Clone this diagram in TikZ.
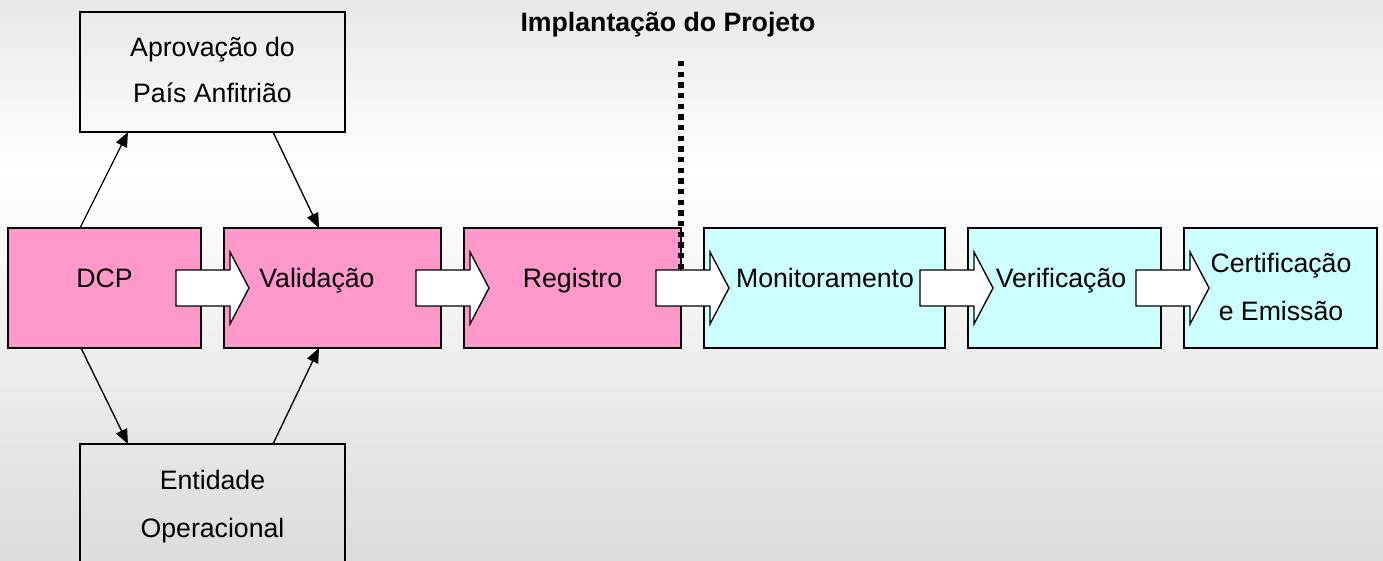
\documentclass[tikz,border=0pt]{standalone}
\usepackage{fontspec}
\setmainfont{Liberation Sans}
\usetikzlibrary{calc,arrows.meta}
\definecolor{pinkfill}{HTML}{FF99CC}
\definecolor{cyanfill}{HTML}{CCFFFF}
\definecolor{bgtop}{RGB}{232,232,232}
\definecolor{bgbot}{RGB}{220,220,220}
\tikzset{
  boxwh/.style 2 args={minimum width=#1*0.75pt, minimum height=#2*0.75pt},
  basebox/.style={draw=black, line width=1pt, inner sep=0pt, outer sep=0pt, rectangle},
  greybox/.style={basebox},
  pinkbox/.style={basebox, fill=pinkfill},
  cyanbox/.style={basebox, fill=cyanfill},
  blkarr/.style={draw=black, line width=1pt, fill=white, line join=miter},
  thinarr/.style={draw=black, line width=1pt, -{Triangle[length=11pt,width=9pt]}},
  dotline/.style={draw=black, line width=4pt, dash pattern=on 4pt off 4pt},
  txt/.style={font=\fontsize{20}{24}\selectfont, inner sep=0pt, anchor=base},
  ttl/.style={font=\fontsize{20}{24}\selectfont\bfseries, inner sep=0pt, anchor=base}
}
\newcommand\blkarrow[1]{\draw[blkarr] ($(#1.east)+(-25,-18)$) -- ++(54,0) -- ++(0,-18) -- ++(19,36) -- ++(-19,36) -- ++(0,-18) -- ++(-54,0) -- cycle;}
\begin{document}
\begin{tikzpicture}[x=0.75pt,y=-0.75pt]
\useasboundingbox (0,0) rectangle (1383,560);
\shade[top color=bgtop, bottom color=white] (0,0) rectangle (1383,170);
\shade[top color=white, bottom color=bgbot] (0,170) rectangle (1383,560);
\begin{scope}
\clip (0,0) rectangle (1383,560);
% boxes
\node[greybox, boxwh={265}{120}] (aprov) at (212.5,72) {};
\node[pinkbox, boxwh={193}{120}] (dcp) at (104.5,288) {};
\node[pinkbox, boxwh={217}{120}] (valid) at (332.5,288) {};
\node[pinkbox, boxwh={217}{120}] (reg) at (572.5,288) {};
\node[cyanbox, boxwh={241}{120}] (mon) at (824.5,288) {};
\node[cyanbox, boxwh={193}{120}] (ver) at (1064.5,288) {};
\node[cyanbox, boxwh={193}{120}] (cert) at (1280.5,288) {};
\node[greybox, boxwh={265}{120}] (ent) at (212.5,504) {};
% dotted separator
\coordinate (dtop) at (681,61);
\coordinate (dbot) at (681,272);
\draw[dotline] (dtop) -- (dbot);
% block arrows
\blkarrow{dcp}
\blkarrow{valid}
\blkarrow{reg}
\blkarrow{mon}
\blkarrow{ver}
% thin arrows
\draw[thinarr] ($(dcp.north west)+(72,0)$) -- ($(aprov.south west)+(48,0)$);
\draw[thinarr] ($(aprov.south west)+(193,0)$) -- ($(valid.north west)+(95,0)$);
\draw[thinarr] ($(dcp.south west)+(73,0)$) -- ($(ent.north west)+(48,0)$);
\draw[thinarr] ($(ent.north west)+(193,0)$) -- ($(valid.south west)+(95,0)$);
% texts
\node[ttl] (title) at (668,32) {Implantação do Projeto};
\node[txt] (aprov1) at (212.5,56) {Aprovação do};
\node[txt] (aprov2) at (212.5,103) {País Anfitrião};
\node[txt] (dcpt) at (104.5,287) {DCP};
\node[txt] (validt) at (317,287) {Validação};
\node[txt] (regt) at (572.5,287) {Registro};
\node[txt] (mont) at (825,287) {Monitoramento};
\node[txt] (vert) at (1061,287) {Verificação};
\node[txt] (cert1) at (1281,272) {Certificação};
\node[txt] (cert2) at (1281,320) {e Emissão};
\node[txt] (ent1) at (212.5,489) {Entidade};
\node[txt] (ent2) at (212.5,537) {Operacional};
\end{scope}
\end{tikzpicture}
\end{document}
